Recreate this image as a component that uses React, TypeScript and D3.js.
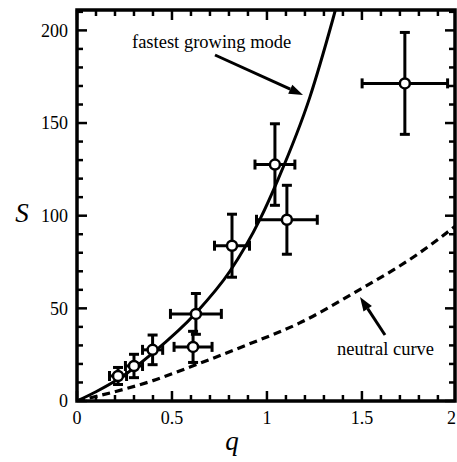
import React, { useEffect, useRef } from 'react';
import * as d3 from 'd3';

// measured points (q, S) with symmetric error bars
const qValues = [0.216, 0.3, 0.398, 0.626, 0.611, 0.816, 1.042, 1.105, 1.726];
const sValues = [13.5, 18.9, 27.6, 47, 29.2, 83.8, 127.6, 97.8, 171.4];
const qErrors = [0.045, 0.045, 0.053, 0.134, 0.1, 0.092, 0.105, 0.16, 0.225];
const sErrors = [4.6, 6.3, 8, 11, 8.4, 17, 22, 18.6, 27.5];

// fastest growing mode (solid)
const fastQ = [0, 0.1, 0.226, 0.4, 0.626, 0.805, 0.963, 1.058, 1.226, 1.347, 1.4];
const fastS = [0, 5, 12.4, 26, 47.5, 70, 98, 119.5, 164, 206, 226];

// neutral curve (dashed)
const neutralQ = [0, 0.13, 0.4, 0.65, 0.9, 1.17, 1.47, 1.79, 2];
const neutralS = [0, 3.2, 11, 20.5, 30.5, 42, 59, 79, 95];

const xMajorTicks = [0, 0.5, 1, 1.5, 2];
const xTickLabels = ['0', '0.5', '1', '1.5', '2'];
const yMajorTicks = [0, 50, 100, 150, 200];
const yTickLabels = ['0', '50', '100', '150', '200'];

const W = 457;
const H = 462;
const FONT = 'Liberation Serif, DejaVu Serif, serif';

const App = () => {
  const svgRef = useRef<SVGSVGElement>(null);

  useEffect(() => {
    const svg = d3.select(svgRef.current);
    svg.selectAll('*').remove();

    const left = 77, right = 455, top = 10, bottom = 401;
    const x = d3.scaleLinear().domain([0, 1.99]).range([left, right]);
    const y = d3.scaleLinear().domain([0, 211]).range([bottom, top]);

    svg.append('defs').append('clipPath').attr('id', 'plot-clip')
      .append('rect')
      .attr('x', left).attr('y', top)
      .attr('width', right - left).attr('height', bottom - top);

    // ticks, inward on all four sides
    const xMinor = d3.range(0, 20).map(i => i / 10).filter(v => v <= 1.99);
    const yMinor = d3.range(0, 22).map(i => i * 10).filter(v => v <= 211);
    const ticks = svg.append('g').attr('stroke', '#000').attr('stroke-width', 2.5);
    xMinor.forEach(v => {
      const major = Math.abs(v * 2 - Math.round(v * 2)) < 1e-6;
      const len = major ? 10 : 6;
      ticks.append('line').attr('x1', x(v)).attr('x2', x(v)).attr('y1', bottom).attr('y2', bottom - len);
      ticks.append('line').attr('x1', x(v)).attr('x2', x(v)).attr('y1', top).attr('y2', top + len);
    });
    yMinor.forEach(v => {
      const len = v % 50 === 0 ? 10 : 6;
      ticks.append('line').attr('x1', left).attr('x2', left + len).attr('y1', y(v)).attr('y2', y(v));
      ticks.append('line').attr('x1', right).attr('x2', right - len).attr('y1', y(v)).attr('y2', y(v));
    });

    // frame
    svg.append('rect')
      .attr('x', left).attr('y', top)
      .attr('width', right - left).attr('height', bottom - top)
      .attr('fill', 'none').attr('stroke', '#000').attr('stroke-width', 3.5);

    // tick labels
    xMajorTicks.forEach((v, i) => {
      const last = i === xMajorTicks.length - 1;
      svg.append('text')
        .attr('x', last ? W - 1 : x(v)).attr('y', 424)
        .attr('text-anchor', last ? 'end' : 'middle')
        .attr('font-family', FONT).attr('font-size', 18)
        .text(xTickLabels[i]);
    });
    yMajorTicks.forEach((v, i) => {
      svg.append('text')
        .attr('x', 68).attr('y', y(v)).attr('dy', '0.35em')
        .attr('text-anchor', 'end')
        .attr('font-family', FONT).attr('font-size', 18)
        .text(yTickLabels[i]);
    });

    // axis titles
    svg.append('text')
      .attr('x', 232).attr('y', 450)
      .attr('text-anchor', 'middle')
      .attr('font-family', FONT).attr('font-size', 27).attr('font-style', 'italic')
      .text('q');
    svg.append('text')
      .attr('x', 22).attr('y', 222)
      .attr('text-anchor', 'middle')
      .attr('font-family', FONT).attr('font-size', 27).attr('font-style', 'italic')
      .text('S');

    const plot = svg.append('g').attr('clip-path', 'url(#plot-clip)');

    const line = d3.line<[number, number]>()
      .x(d => x(d[0]))
      .y(d => y(d[1]))
      .curve(d3.curveMonotoneX);

    plot.append('path')
      .datum(fastQ.map((q, i) => [q, fastS[i]] as [number, number]))
      .attr('fill', 'none').attr('stroke', '#000').attr('stroke-width', 3)
      .attr('d', line);

    plot.append('path')
      .datum(neutralQ.map((q, i) => [q, neutralS[i]] as [number, number]))
      .attr('fill', 'none').attr('stroke', '#000').attr('stroke-width', 3.2)
      .attr('stroke-dasharray', '8,5')
      .attr('d', line);

    // error bars
    const bars = svg.append('g').attr('stroke', '#000').attr('stroke-width', 3);
    const cap = 5;
    qValues.forEach((q, i) => {
      const s = sValues[i];
      const x0 = x(q - qErrors[i]), x1 = x(q + qErrors[i]);
      const y0 = y(s - sErrors[i]), y1 = y(s + sErrors[i]);
      bars.append('line').attr('x1', x0).attr('x2', x1).attr('y1', y(s)).attr('y2', y(s));
      bars.append('line').attr('x1', x(q)).attr('x2', x(q)).attr('y1', y0).attr('y2', y1);
      bars.append('line').attr('x1', x0).attr('x2', x0).attr('y1', y(s) - cap).attr('y2', y(s) + cap);
      bars.append('line').attr('x1', x1).attr('x2', x1).attr('y1', y(s) - cap).attr('y2', y(s) + cap);
      bars.append('line').attr('x1', x(q) - cap).attr('x2', x(q) + cap).attr('y1', y0).attr('y2', y0);
      bars.append('line').attr('x1', x(q) - cap).attr('x2', x(q) + cap).attr('y1', y1).attr('y2', y1);
    });

    svg.append('g').selectAll('circle')
      .data(qValues)
      .join('circle')
      .attr('cx', d => x(d))
      .attr('cy', (d, i) => y(sValues[i]))
      .attr('r', 5)
      .attr('fill', '#fff').attr('stroke', '#000').attr('stroke-width', 2.5);

    // annotations
    const arrow = (xa: number, ya: number, xb: number, yb: number) => {
      const ang = Math.atan2(yb - ya, xb - xa);
      const head = 14, half = 5;
      const bx = xb - head * Math.cos(ang), by = yb - head * Math.sin(ang);
      svg.append('line')
        .attr('x1', xa).attr('y1', ya).attr('x2', bx).attr('y2', by)
        .attr('stroke', '#000').attr('stroke-width', 3);
      svg.append('polygon')
        .attr('points', [
          [xb, yb],
          [bx + half * Math.sin(ang), by - half * Math.cos(ang)],
          [bx - half * Math.sin(ang), by + half * Math.cos(ang)],
        ].map(p => p.join(',')).join(' '))
        .attr('fill', '#000');
    };

    svg.append('text')
      .attr('x', 132).attr('y', 48)
      .attr('font-family', FONT).attr('font-size', 18.5)
      .text('fastest growing mode');
    arrow(215, 55, 303, 95);

    svg.append('text')
      .attr('x', 337).attr('y', 355)
      .attr('font-family', FONT).attr('font-size', 18.5)
      .text('neutral curve');
    arrow(385, 335, 360, 297);
  }, []);

  return (
    <svg
      ref={svgRef}
      width={W}
      height={H}
      style={{ position: 'absolute', left: 0, top: 0, background: '#fff' }}
    />
  );
};

export default App;
